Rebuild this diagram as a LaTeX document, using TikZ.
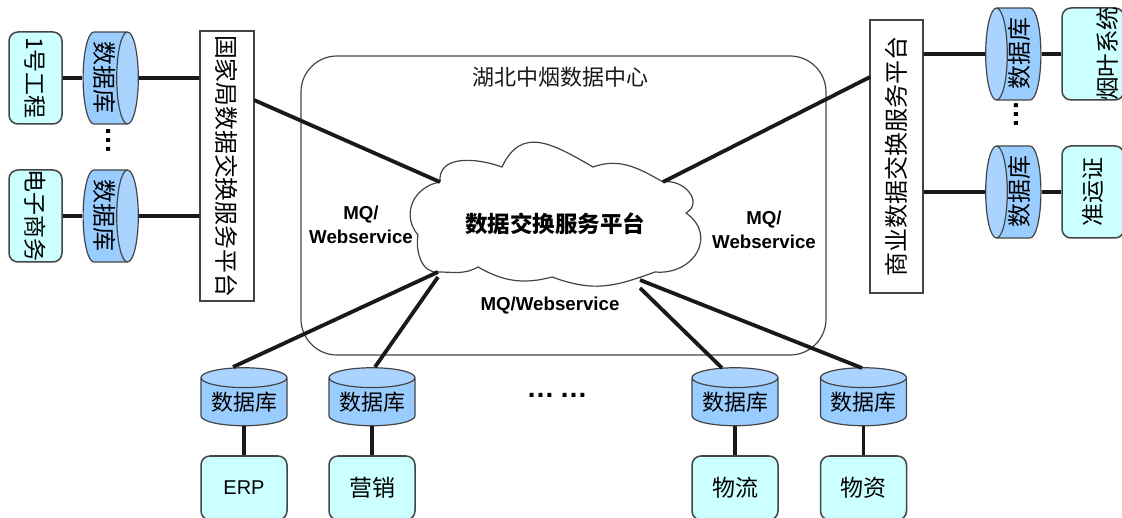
\documentclass[tikz,border=0pt]{standalone}
\usepackage{fontspec}
\setmainfont{Noto Sans CJK SC}
\newfontfamily\latinfont{Liberation Sans}
\usetikzlibrary{shapes.geometric}
\definecolor{appfill}{HTML}{CCFFFF}
\definecolor{dbbody}{HTML}{99CCFF}
\definecolor{dbend}{HTML}{AAD4FF}
\definecolor{edge}{HTML}{444444}

\begin{document}
\begin{tikzpicture}[x=1pt,y=1pt,
    app/.style = {draw=edge, line width=1.5pt, fill=appfill, rounded corners=9pt, inner sep=0pt, font=\fontsize{23}{23}\selectfont},
    db/.style = {draw=edge, line width=1.2pt, cylinder, shape border rotate=90, shape aspect=0.3, cylinder uses custom fill, cylinder body fill=dbbody, cylinder end fill=dbend, inner sep=0pt, font=\fontsize{22}{22}\selectfont},
    plat/.style = {draw=edge, line width=1.2pt, fill=white, inner sep=0pt},
    link/.style = {line width=3.8pt, black!90},
    proto/.style = {font=\latinfont\bfseries\fontsize{18.7}{24}\selectfont, align=center, text=black},
    dots/.style = {font=\latinfont\bfseries\fontsize{28}{28}\selectfont, inner sep=0pt}]
    \useasboundingbox (0,0) rectangle (1122,517);

    % data centre
    \node[draw=edge, line width=1.2pt, rounded corners=36pt, minimum width=525pt, minimum height=299pt, inner sep=0pt] (centre) at (563.5,311.5) {};
    \node (title) at (560,440) [text=black!90, font=\fontsize{22}{22}\selectfont] {湖北中烟数据中心};

    % left side
    \node[app, rotate=-90, minimum width=92pt, minimum height=53pt] (a1) at (35.5,439) {1号工程};
    \node[db, rotate=-90, minimum width=92pt, minimum height=50pt, font=\fontsize{24}{24}\selectfont] (d1) [above of=a1, node distance=69.5pt] {数据库};
    \node[app, rotate=-90, minimum width=92pt, minimum height=53pt] (a2) at (35.5,301) {电子商务};
    \node[db, rotate=-90, minimum width=92pt, minimum height=50pt, font=\fontsize{24}{24}\selectfont] (d2) [above of=a2, node distance=69.5pt] {数据库};
    \node[plat, rotate=-90, minimum width=270pt, minimum height=54pt, font=\fontsize{23.8}{24}\selectfont] (guo) at (227,351) {国家局数据交换服务平台};
    \node[dots, rotate=-90] (ldots) at (109,376) {…};

    % right side
    \node[app, minimum width=92pt, minimum height=62pt, rotate=90] (a3) at (1093,463) {};
    \node (a3t) at (1108,463) [rotate=90, font=\fontsize{23.5}{24}\selectfont] {烟叶系统};
    \node[db, rotate=90, minimum width=92pt, minimum height=50pt, font=\fontsize{24}{24}\selectfont] (d3) [above of=a3, node distance=74pt] {数据库};
    \node[app, minimum width=92pt, minimum height=62pt, rotate=90] (a4) at (1093,325) {准运证};
    \node[db, rotate=90, minimum width=92pt, minimum height=50pt, font=\fontsize{24}{24}\selectfont] (d4) [above of=a4, node distance=74pt] {数据库};
    \node[plat, rotate=90, minimum width=273pt, minimum height=53pt, font=\fontsize{24}{24}\selectfont] (shang) at (896.5,360.5) {商业数据交换服务平台};
    \node[dots, rotate=90] (rdots) at (1016,402) {…};

    % bottom row
    \node[db, minimum width=86pt, minimum height=58pt] (d5) at (244,115) {数据库};
    \node[db, minimum width=86pt, minimum height=58pt] (d6) at (372,115) {数据库};
    \node[db, minimum width=86pt, minimum height=58pt] (d7) at (735,115) {数据库};
    \node[db, minimum width=86pt, minimum height=58pt] (d8) at (863.5,115) {数据库};
    \node[app, minimum width=86pt, minimum height=64pt] (a5) [below of=d5, node distance=86pt] {\latinfont\fontsize{20}{20}\selectfont ERP};
    \node[app, minimum width=86pt, minimum height=64pt] (a6) [below of=d6, node distance=86pt] {营销};
    \node[app, minimum width=86pt, minimum height=64pt] (a7) [below of=d7, node distance=86pt] {物流};
    \node[app, minimum width=86pt, minimum height=64pt] (a8) [below of=d8, node distance=86pt] {物资};
    \node[dots] (bdots1) at (540.5,122) {…};
    \node[dots] (bdots2) at (573.5,122) {…};

    % cloud
    \coordinate (c1) at (440,335);
    \coordinate (c2) at (502,350);
    \coordinate (c3) at (593,350);
    \coordinate (c4) at (663,335);
    \coordinate (c5) at (686,304);
    \coordinate (c6) at (655,245);
    \coordinate (c7) at (552,240);
    \coordinate (c8) at (478,250);
    \coordinate (c9) at (438,245);
    \coordinate (c10) at (418,282);
    \draw[edge, line width=1.2pt, fill=white] (c1) to [out=95,in=160,looseness=1.1] (c2)
        to [out=65,in=150,looseness=1.3] (c3)
        to [out=20,in=150] (c4)
        to [out=10,in=30,looseness=1.4] (c5)
        to [out=-35,in=-5,looseness=1.5] (c6)
        to [out=-160,in=-20,looseness=1.1] (c7)
        to [out=-165,in=-30] (c8)
        to [out=-150,in=0] (c9)
        to [out=185,in=-100] (c10)
        to [out=130,in=190,looseness=1.2] (c1);
    \node (cloud) at (555,293) [font=\bfseries\fontsize{22.5}{23}\selectfont, inner sep=0pt] {数据交换服务平台};

    \node[proto] (mq1) at (361,292) {MQ/\\Webservice};
    \node[proto] (mq2) at (764,287) {MQ/\\Webservice};
    \node[proto] (mq3) at (550,211) {MQ/Webservice};

    % connectors
    \draw[link] (a1) -- (d1);
    \draw[link] (a2) -- (d2);
    \draw[link] (d1) -- (d1 -| guo.south);
    \draw[link] (d2) -- (d2 -| guo.south);
    \draw[link] (a3) -- (d3);
    \draw[link] (a4) -- (d4);
    \draw[link] (d3) -- (d3 -| shang.south);
    \draw[link] (d4) -- (d4 -| shang.south);
    \draw[link] (d5) -- (a5);
    \draw[link] (d6) -- (a6);
    \draw[link] (d7) -- (a7);
    \draw[link] (d8) -- (a8);

    \coordinate (g1) at (254,417);
    \coordinate (s1) at (870,440);
    \coordinate (t5) at (233,150);
    \coordinate (t6) at (375,150);
    \coordinate (t7) at (722,149);
    \coordinate (t8) at (862,149);
    \coordinate (e7) at (640,229);
    \coordinate (e8) at (640,237);
    \coordinate (e6) at (438,240);
    \draw[link] (g1) -- (c1);
    \draw[link] (s1) -- (c4);
    \draw[link] (t5) -- (c9);
    \draw[link] (t6) -- (e6);
    \draw[link] (t7) -- (e7);
    \draw[link] (t8) -- (e8);
\end{tikzpicture}
\end{document}
